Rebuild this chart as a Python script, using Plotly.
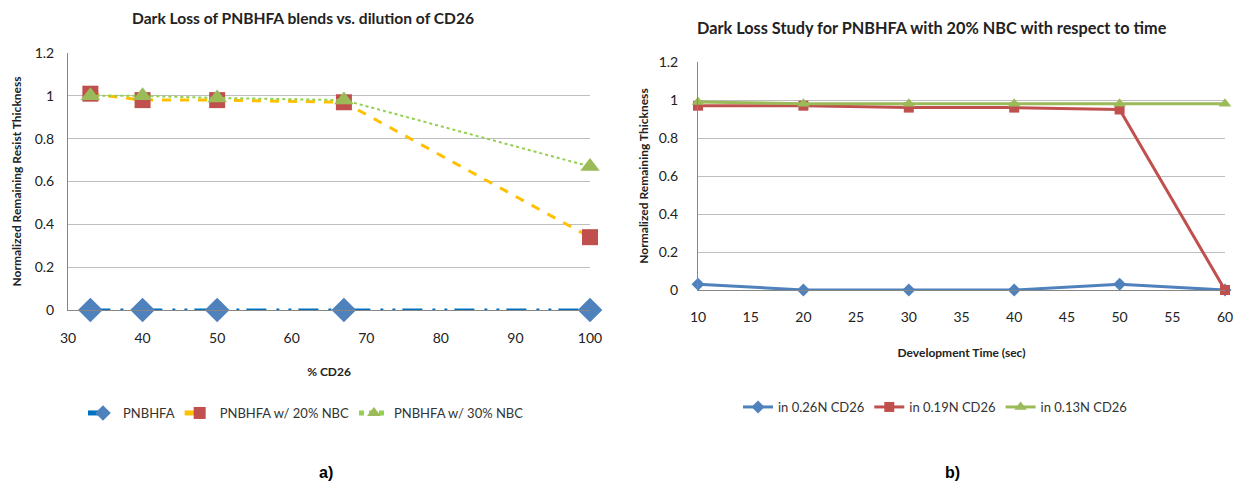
import plotly.graph_objects as go

# Left chart data
cd26_pct = [33, 40, 50, 67, 100]
pnbhfa = [0, 0, 0, 0, 0]
pnbhfa_20 = [1.01, 0.98, 0.98, 0.97, 0.34]
pnbhfa_30 = [1.0, 1.0, 0.99, 0.98, 0.67]
left_names = ["PNBHFA", "PNBHFA w/ 20% NBC", "PNBHFA w/ 30% NBC"]

# Right chart data
dev_time = [10, 20, 30, 40, 50, 60]
n026 = [0.03, 0.0, 0.0, 0.0, 0.03, 0.0]
n019 = [0.97, 0.97, 0.96, 0.96, 0.95, 0.0]
n013 = [0.99, 0.98, 0.98, 0.98, 0.98, 0.98]
right_names = ["in 0.26N CD26", "in 0.19N CD26", "in 0.13N CD26"]

FONT = "Lato, Open Sans, Arial"
fig = go.Figure()

fig.add_trace(go.Scatter(x=cd26_pct, y=pnbhfa, name=left_names[0], mode="lines+markers",
                         line=dict(color="#0070C0", width=3, dash="20px,10px,3px,9px,3px,7px"),
                         marker=dict(symbol="diamond", size=19, color="#4F81BD"),
                         xaxis="x", yaxis="y", legend="legend", cliponaxis=False))
fig.add_trace(go.Scatter(x=cd26_pct, y=pnbhfa_20, name=left_names[1], mode="lines+markers",
                         line=dict(color="#FFC000", width=3, dash="dash"),
                         marker=dict(symbol="square", size=16, color="#C0504D"),
                         xaxis="x", yaxis="y", legend="legend", cliponaxis=False))
fig.add_trace(go.Scatter(x=cd26_pct, y=pnbhfa_30, name=left_names[2], mode="lines+markers",
                         line=dict(color="#92D050", width=2, dash="dot"),
                         marker=dict(symbol="triangle-up", size=17, color="#9BBB59"),
                         xaxis="x", yaxis="y", legend="legend", cliponaxis=False))

fig.add_trace(go.Scatter(x=dev_time, y=n026, name=right_names[0], mode="lines+markers",
                         line=dict(color="#4F81BD", width=3),
                         marker=dict(symbol="diamond", size=10, color="#4F81BD"),
                         xaxis="x2", yaxis="y2", legend="legend2", cliponaxis=False))
fig.add_trace(go.Scatter(x=dev_time, y=n019, name=right_names[1], mode="lines+markers",
                         line=dict(color="#C0504D", width=3),
                         marker=dict(symbol="square", size=10, color="#C0504D"),
                         xaxis="x2", yaxis="y2", legend="legend2", cliponaxis=False))
fig.add_trace(go.Scatter(x=dev_time, y=n013, name=right_names[2], mode="lines+markers",
                         line=dict(color="#9BBB59", width=3),
                         marker=dict(symbol="triangle-up", size=11, color="#9BBB59"),
                         xaxis="x2", yaxis="y2", legend="legend2", cliponaxis=False))

W, H = 1234, 485
def px(v):
    return v / W
def py(v):
    return 1 - v / H

axis_common = dict(showgrid=False, showline=True, linecolor="#868686", linewidth=1,
                   ticks="", tickfont=dict(family=FONT, size=14, color="#222"),
                   zeroline=False, automargin=False, ticklabeloverflow="allow")
yaxis_common = dict(showgrid=True, gridcolor="#BEBEBE", gridwidth=1, showline=True,
                    linecolor="#868686", ticks="", zeroline=False, automargin=False,
                    tickfont=dict(family=FONT, size=14, color="#222"),
                    range=[0, 1.2], dtick=0.2, tick0=0, tickformat="~g")
title_font = dict(family=FONT, size=12, color="#222")

fig.update_layout(
    width=W, height=H, margin=dict(l=0, r=0, t=0, b=0, autoexpand=False),
    paper_bgcolor="white", plot_bgcolor="white",
    xaxis=dict(axis_common, domain=[px(68), px(590)], range=[30, 100], dtick=10,
               anchor="y", ticklabelstandoff=15,
               title=dict(text="<b>% CD26</b>", font=title_font, standoff=22)),
    yaxis=dict(yaxis_common, domain=[py(310), py(53)], anchor="x", ticklabelstandoff=10,
               title=dict(text="<b>Normalized Remaining Resist Thickness</b>", font=title_font, standoff=10)),
    xaxis2=dict(axis_common, domain=[px(698), px(1225)], range=[10, 60], dtick=5,
                anchor="y2", ticklabelstandoff=14,
                title=dict(text="<b>Development Time (sec)</b>", font=title_font, standoff=24)),
    yaxis2=dict(yaxis_common, domain=[py(290), py(62)], anchor="x2", ticklabelstandoff=16,
                title=dict(text="<b>Normalized Remaining Thickness</b>", font=title_font, standoff=7)),
    legend=dict(orientation="h", x=px(306), xanchor="center", y=py(413), yanchor="middle",
                font=dict(family=FONT, size=13, color="#333"), bgcolor="rgba(0,0,0,0)",
                itemsizing="constant"),
    legend2=dict(orientation="h", x=px(935), xanchor="center", y=py(407), yanchor="middle",
                 font=dict(family=FONT, size=13, color="#333"), bgcolor="rgba(0,0,0,0)"),
    annotations=[
        dict(text="<b>Dark Loss of PNBHFA blends vs. dilution of CD26</b>", x=px(303), y=py(18),
             xref="paper", yref="paper", xanchor="center", yanchor="middle", showarrow=False,
             font=dict(family=FONT, size=15.6, color="#222")),
        dict(text="<b>Dark Loss Study for PNBHFA with 20% NBC with respect to time</b>", x=px(932), y=py(27),
             xref="paper", yref="paper", xanchor="center", yanchor="middle", showarrow=False,
             font=dict(family=FONT, size=16.3, color="#222")),
        dict(text="<b>a)</b>", x=px(326), y=py(472), xref="paper", yref="paper",
             xanchor="center", yanchor="middle",
             showarrow=False, font=dict(family="Liberation Sans, Arial", size=16, color="#000")),
        dict(text="<b>b)</b>", x=px(952), y=py(472), xref="paper", yref="paper",
             xanchor="center", yanchor="middle",
             showarrow=False, font=dict(family="Liberation Sans, Arial", size=16, color="#000")),
    ],
)

fig.write_html("out.html")
